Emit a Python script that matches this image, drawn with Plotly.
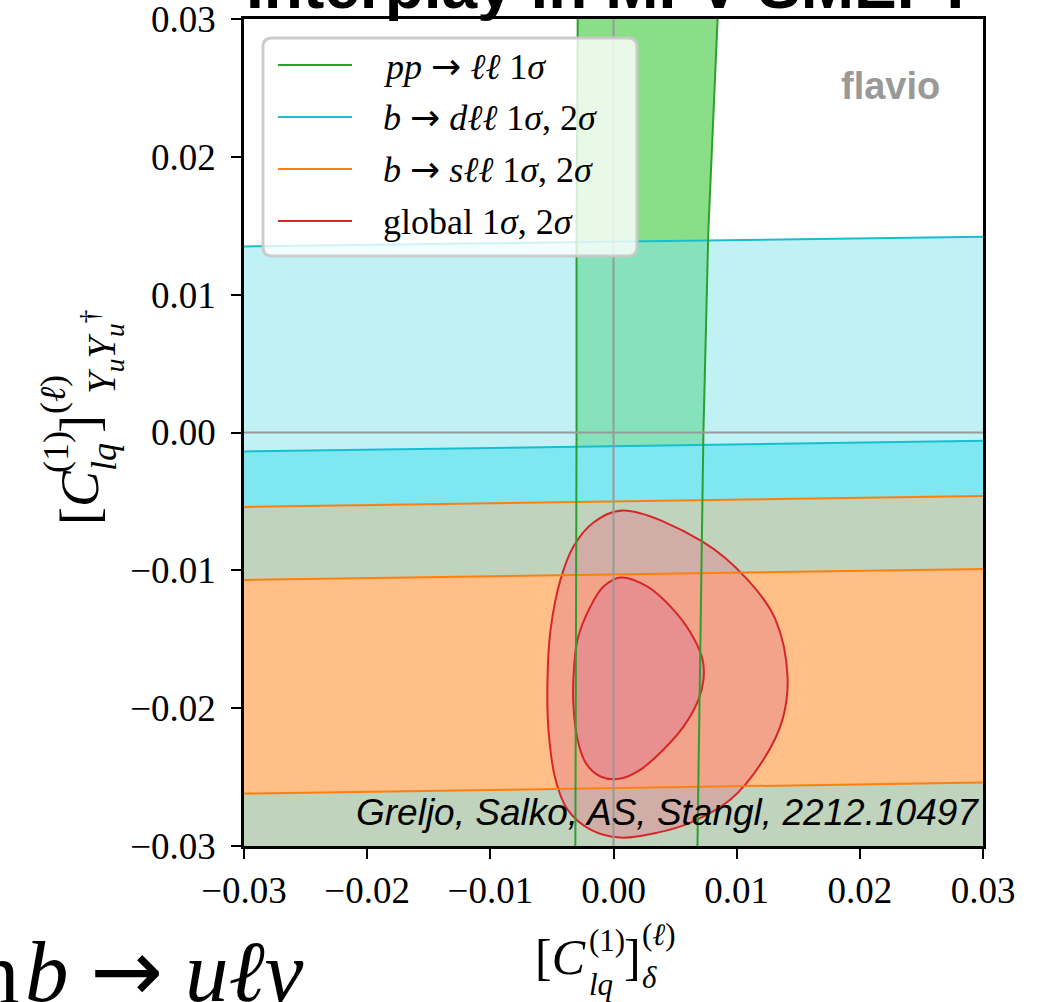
import plotly.graph_objects as go

# ---------------- data ----------------
x_edges = [-0.03, 0.03]                      # x positions where straight band edges are sampled
cyan_2s_top = [0.0135, 0.0142]               # b -> d ll, 2 sigma upper edge
cyan_1s_top = [-0.00138, -0.0006]            # b -> d ll, 1 sigma upper edge
orange_2s_top = [-0.0054, -0.0046]           # b -> s ll, 2 sigma upper edge
orange_1s_top = [-0.0107, -0.0099]           # b -> s ll, 1 sigma upper edge
orange_1s_bot = [-0.0262, -0.0254]           # b -> s ll, 1 sigma lower edge

pp_y = [0.031, 0.0146, 0.0, -0.031]          # pp -> ll band edges sampled at these y
pp_left = [-0.0029, -0.0030, -0.0030, -0.0031]
pp_right = [0.0085, 0.0077, 0.0073, 0.0068]

glob2_x = [0.00081, 0.00723, 0.01088, 0.01315, 0.01413, 0.01372, 0.01218, 0.00950, 0.00625, 0.00357,
           0.00057, -0.00187, -0.00373, -0.00471, -0.00528, -0.00536, -0.00511, -0.00430, -0.00325, -0.00162]
glob2_y = [-0.00566, -0.00791, -0.01067, -0.01357, -0.01771, -0.02083, -0.02373, -0.02663, -0.02830, -0.02903,
           -0.02939, -0.02881, -0.02736, -0.02518, -0.02155, -0.01792, -0.01430, -0.01067, -0.00827, -0.00653]
glob1_x = [0.00057, 0.00276, 0.00463, 0.00625, 0.00723, 0.00731, 0.00690, 0.00568, 0.00406, 0.00219,
           0.00057, -0.00106, -0.00227, -0.00292, -0.00325, -0.00325, -0.00292, -0.00187, -0.00081]
glob1_y = [-0.01052, -0.01118, -0.01263, -0.01451, -0.01647, -0.01792, -0.01938, -0.02134, -0.02300, -0.02446,
           -0.02511, -0.02496, -0.02395, -0.02228, -0.01988, -0.01771, -0.01502, -0.01263, -0.01118]

tick_vals = [-0.03, -0.02, -0.01, 0.0, 0.01, 0.02, 0.03]
ARROW = "<span style='font-family:DejaVu Sans'>→</span>"
legend_labels = [f"<i>pp</i> {ARROW} <i>ℓℓ</i> 1<i>σ</i>",
                 f"<i>b</i> {ARROW} <i>dℓℓ</i> 1<i>σ</i>, 2<i>σ</i>",
                 f"<i>b</i> {ARROW} <i>sℓℓ</i> 1<i>σ</i>, 2<i>σ</i>",
                 "global 1<i>σ</i>, 2<i>σ</i>"]

# ---------------- styles ----------------
GREEN = "#2ca02c"; CYAN = "#17becf"; ORANGE = "#ff7f0e"; RED = "#d62728"
W, H = 1042, 1002
L, R, T, B = 244, 983, 19, 846   # plot area in page pixels
YMIN = -0.03
SERIF = "Liberation Serif, Times New Roman, serif"


def px(xp):
    return (xp - L) / (R - L)


def py(yp):
    return (B - yp) / (B - T)


fig = go.Figure()

# green band fill
fig.add_trace(go.Scatter(x=pp_left + pp_right[::-1] + [pp_left[0]],
                         y=pp_y + pp_y[::-1] + [pp_y[0]],
                         fill="toself", fillcolor="#8ade88", mode="none",
                         showlegend=False, hoverinfo="skip"))
# cyan 2 sigma (translucent) between 2s top and 1s top
fig.add_trace(go.Scatter(x=x_edges + x_edges[::-1] + [x_edges[0]],
                         y=cyan_2s_top + cyan_1s_top[::-1] + [cyan_2s_top[0]],
                         fill="toself", fillcolor="rgba(129,229,235,0.5)", mode="none",
                         showlegend=False, hoverinfo="skip"))
# cyan 1 sigma down to axis bottom
fig.add_trace(go.Scatter(x=x_edges + x_edges[::-1] + [x_edges[0]],
                         y=cyan_1s_top + [YMIN - 0.001] * 2 + [cyan_1s_top[0]],
                         fill="toself", fillcolor="rgb(126,231,240)", mode="none",
                         showlegend=False, hoverinfo="skip"))
# orange 2 sigma (seen over cyan)
fig.add_trace(go.Scatter(x=x_edges + x_edges[::-1] + [x_edges[0]],
                         y=orange_2s_top + [YMIN - 0.001] * 2 + [orange_2s_top[0]],
                         fill="toself", fillcolor="rgb(192,211,189)", mode="none",
                         showlegend=False, hoverinfo="skip"))
# orange 1 sigma
fig.add_trace(go.Scatter(x=x_edges + x_edges[::-1] + [x_edges[0]],
                         y=orange_1s_top + orange_1s_bot[::-1] + [orange_1s_top[0]],
                         fill="toself", fillcolor="rgb(255,191,135)", mode="none",
                         showlegend=False, hoverinfo="skip"))
# global contours
fig.add_trace(go.Scatter(x=glob2_x + [glob2_x[0]], y=glob2_y + [glob2_y[0]],
                         fill="toself", fillcolor="rgba(228,128,140,0.45)",
                         mode="lines", line=dict(color=RED, width=2, shape="spline", smoothing=1.0),
                         showlegend=False, hoverinfo="skip", name="global 2σ"))
fig.add_trace(go.Scatter(x=glob1_x + [glob1_x[0]], y=glob1_y + [glob1_y[0]],
                         fill="toself", fillcolor="rgba(222,124,150,0.5)",
                         mode="lines", line=dict(color=RED, width=2, shape="spline", smoothing=1.0),
                         showlegend=False, hoverinfo="skip", name="global 1σ"))

# band edge lines
for yy in (cyan_2s_top, cyan_1s_top):
    fig.add_trace(go.Scatter(x=x_edges, y=yy, mode="lines", line=dict(color=CYAN, width=2),
                             showlegend=False, hoverinfo="skip"))
for yy in (orange_2s_top, orange_1s_top, orange_1s_bot):
    fig.add_trace(go.Scatter(x=x_edges, y=yy, mode="lines", line=dict(color=ORANGE, width=2),
                             showlegend=False, hoverinfo="skip"))
for xx in (pp_left, pp_right):
    fig.add_trace(go.Scatter(x=xx, y=pp_y, mode="lines", line=dict(color=GREEN, width=2),
                             showlegend=False, hoverinfo="skip"))

shapes = []
# zero lines (grey, on top)
shapes.append(dict(type="line", xref="x", yref="paper", x0=0, x1=0, y0=0, y1=1,
                   line=dict(color="#999999", width=2), layer="above"))
shapes.append(dict(type="line", xref="paper", yref="y", x0=0, x1=1, y0=0, y1=0,
                   line=dict(color="#999999", width=2), layer="above"))

# manual legend box with rounded corners
lx0, lx1, ly0, ly1, rr = 263, 637, 38, 256, 9
path = (f"M {px(lx0 + rr)},{py(ly0)} L {px(lx1 - rr)},{py(ly0)} Q {px(lx1)},{py(ly0)} {px(lx1)},{py(ly0 + rr)} "
        f"L {px(lx1)},{py(ly1 - rr)} Q {px(lx1)},{py(ly1)} {px(lx1 - rr)},{py(ly1)} "
        f"L {px(lx0 + rr)},{py(ly1)} Q {px(lx0)},{py(ly1)} {px(lx0)},{py(ly1 - rr)} "
        f"L {px(lx0)},{py(ly0 + rr)} Q {px(lx0)},{py(ly0)} {px(lx0 + rr)},{py(ly0)} Z")
shapes.append(dict(type="path", xref="paper", yref="paper", path=path,
                   fillcolor="rgba(255,255,255,0.8)", line=dict(color="rgba(200,200,200,0.9)", width=3),
                   layer="above"))
row_y = [65, 117, 169, 221]
row_col = [GREEN, CYAN, ORANGE, RED]
annotations = []
for yy, cc, lab in zip(row_y, row_col, legend_labels):
    shapes.append(dict(type="line", xref="paper", yref="paper", x0=px(278), x1=px(352), y0=py(yy), y1=py(yy),
                       line=dict(color=cc, width=2), layer="above"))
    annotations.append(dict(xref="paper", yref="paper", x=px(381), y=py(yy + 1), xanchor="left", yanchor="middle",
                            text=lab, showarrow=False, font=dict(family=SERIF, size=36, color="black")))

# flavio watermark and citation
annotations.append(dict(xref="paper", yref="paper", x=px(890), y=py(86), xanchor="center", yanchor="middle",
                        text="<b>flavio</b>", showarrow=False,
                        font=dict(family="Liberation Sans, Arial, sans-serif", size=38, color="#999999")))
annotations.append(dict(xref="paper", yref="paper", x=px(981), y=py(812), xanchor="right", yanchor="middle",
                        text="<i>Greljo, Salko, AS, Stangl, 2212.10497</i>", showarrow=False,
                        font=dict(family="Liberation Sans, Arial, sans-serif", size=37, color="black")))

# cut-off slide title and slide text
annotations.append(dict(xref="paper", yref="paper", x=px(610), y=py(24), xanchor="center", yanchor="bottom",
                        text="<b>Interplay in MFV SMEFT</b>", showarrow=False,
                        font=dict(family="Liberation Sans, Arial, sans-serif", size=64, color="black")))
annotations.append(dict(xref="paper", yref="paper", x=px(21), y=py(1024), xanchor="right", yanchor="bottom",
                        text="in", showarrow=False, font=dict(family=SERIF, size=88, color="black")))
annotations.append(dict(xref="paper", yref="paper", x=px(306), y=py(1024), xanchor="right", yanchor="bottom",
                        text="<i>b</i> <span style='font-family:DejaVu Sans'>→</span> <i>uℓν</i>",
                        showarrow=False, font=dict(family=SERIF, size=87, color="black")))

# x-axis title: [C_lq^(1)]^(l)_delta
BF, SF = 50, 31
annotations += [
    dict(x=px(588), y=py(957), xanchor="right", yanchor="middle", text="[<i>C</i>", font=dict(size=BF)),
    dict(x=px(587), y=py(940), xanchor="left", yanchor="middle", text="(1)", font=dict(size=SF)),
    dict(x=px(587), y=py(984), xanchor="left", yanchor="middle", text="<i>lq</i>", font=dict(size=SF)),
    dict(x=px(632), y=py(957), xanchor="center", yanchor="middle", text="]", font=dict(size=BF)),
    dict(x=px(640), y=py(935), xanchor="left", yanchor="middle", text="(<i>ℓ</i>)", font=dict(size=SF)),
    dict(x=px(640), y=py(978), xanchor="left", yanchor="middle", text="<i>δ</i>", font=dict(size=SF)),
]
# y-axis title: [C_lq^(1)]^(l)_{Yu Yu^dagger}  (rotated)
annotations += [
    dict(x=px(80), y=py(498), xanchor="center", yanchor="middle", text="[<i>C</i>", textangle=-90, font=dict(size=54)),
    dict(x=px(56), y=py(452), xanchor="center", yanchor="middle", text="(1)", textangle=-90, font=dict(size=36)),
    dict(x=px(104), y=py(457), xanchor="center", yanchor="middle", text="<i>lq</i>", textangle=-90, font=dict(size=36)),
    dict(x=px(80), y=py(424), xanchor="center", yanchor="middle", text="]", textangle=-90, font=dict(size=54)),
    dict(x=px(53), y=py(395), xanchor="center", yanchor="middle", text="(<i>ℓ</i>)", textangle=-90, font=dict(size=36)),
    dict(x=px(102), y=py(352), xanchor="center", yanchor="middle",
         text="<i>Y</i><sub><i>u</i></sub><i>Y</i><sub><i>u</i></sub><sup>†</sup>", textangle=-90, font=dict(size=39)),
]
for a in annotations[-12:]:
    a.update(xref="paper", yref="paper", showarrow=False)
    a["font"].update(family=SERIF, color="black")

axis_common = dict(range=[-0.03, 0.03], tickvals=tick_vals, tickformat=".2f", showgrid=False, zeroline=False,
                   showline=True, linecolor="black", linewidth=2.5, mirror=True, automargin=False,
                   ticks="outside", ticklen=10, tickwidth=2, tickcolor="black", ticklabeloverflow="allow",
                   tickfont=dict(family=SERIF, size=37, color="black"))
fig.update_layout(
    width=W, height=H,
    margin=dict(l=L, r=W - R, t=T, b=H - B),
    paper_bgcolor="white", plot_bgcolor="white",
    xaxis=dict(**axis_common),
    yaxis=dict(**axis_common, ticklabelstandoff=8),
    shapes=shapes, annotations=annotations, showlegend=False,
)
fig.write_html("out.html")
